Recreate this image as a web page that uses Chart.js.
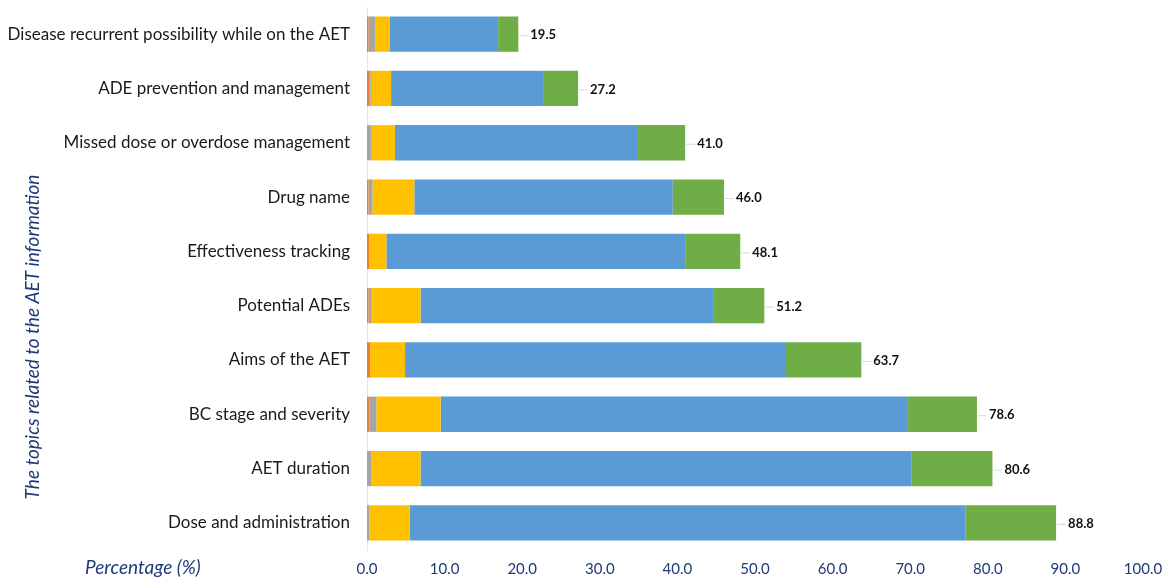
<!DOCTYPE html>
<html>
<head>
<meta charset="utf-8">
<script src="https://cdn.jsdelivr.net/npm/chart.js@4.4.1/dist/chart.umd.min.js"></script>
<style>
  html, body { margin: 0; padding: 0; background: #ffffff; }
  #wrap { width: 1164px; height: 578px; position: relative; }
</style>
</head>
<body>
<div id="wrap"><canvas id="c" width="1164" height="578"></canvas></div>
<script>
const categories = [
  "Disease recurrent possibility while on the AET",
  "ADE prevention and management",
  "Missed dose or overdose management",
  "Drug name",
  "Effectiveness tracking",
  "Potential ADEs",
  "Aims of the AET",
  "BC stage and severity",
  "AET duration",
  "Dose and administration"
];
const seriesOrange = [0.2, 0.3, 0.0, 0.2, 0.3, 0.2, 0.4, 0.3, 0.0, 0.0];
const seriesGray   = [0.9, 0.2, 0.5, 0.5, 0.0, 0.4, 0.0, 0.9, 0.6, 0.3];
const seriesYellow = [1.8, 2.6, 3.1, 5.4, 2.2, 6.3, 4.5, 8.3, 6.3, 5.2];
const seriesBlue   = [14.0, 19.7, 31.2, 33.3, 38.5, 37.7, 49.1, 60.2, 63.3, 71.6];
const seriesGreen  = [2.6, 4.4, 6.2, 6.6, 7.1, 6.6, 9.7, 8.9, 10.4, 11.7];
const totals       = [19.5, 27.2, 41.0, 46.0, 48.1, 51.2, 63.7, 78.6, 80.6, 88.8];
const xTicks       = [0, 10, 20, 30, 40, 50, 60, 70, 80, 90, 100];

const FONT = "Lato, 'Open Sans', sans-serif";
const NAVY = "#1f3a78";

const PLOT_LEFT = 367, PLOT_RIGHT = 1143, PLOT_TOP = 7, PLOT_BOTTOM = 550;

const totalsPlugin = {
  id: 'totals',
  afterDatasetsDraw(chart) {
    const ctx = chart.ctx;
    const xs = chart.scales.x, ys = chart.scales.y;
    ctx.save();
    ctx.font = "bold 13px " + FONT;
    ctx.fillStyle = "#111111";
    ctx.textBaseline = "middle";
    ctx.textAlign = "left";
    totals.forEach((t, i) => {
      const x = xs.getPixelForValue(t);
      const y = ys.getPixelForValue(i) + 1;
      ctx.strokeStyle = "#d9d9d9";
      ctx.lineWidth = 1;
      ctx.beginPath();
      ctx.moveTo(x + 1, y + 0.5);
      ctx.lineTo(x + 10, y + 0.5);
      ctx.stroke();
      ctx.fillText(t.toFixed(1), x + 12, y);
    });
    ctx.restore();
  }
};

const titlesPlugin = {
  id: 'titles',
  afterDraw(chart) {
    const ctx = chart.ctx;
    ctx.save();
    ctx.fillStyle = NAVY;
    ctx.font = "italic 19px " + FONT;
    ctx.textAlign = "left";
    ctx.textBaseline = "middle";
    ctx.fillText("Percentage (%)", 85, 568);
    ctx.translate(33, 337);
    ctx.rotate(-Math.PI / 2);
    ctx.textAlign = "center";
    ctx.fillText("The topics related to the AET information", 0, 0);
    ctx.restore();
  }
};

const mk = (label, data, color) => ({
  label, data, backgroundColor: color, borderWidth: 0,
  barPercentage: 1.0, categoryPercentage: 0.65
});

new Chart(document.getElementById('c'), {
  type: 'bar',
  data: {
    labels: categories,
    datasets: [
      mk("Orange", seriesOrange, "#ED7D31"),
      mk("Gray", seriesGray, "#A5A5A5"),
      mk("Yellow", seriesYellow, "#FFC000"),
      mk("Blue", seriesBlue, "#5B9BD5"),
      mk("Green", seriesGreen, "#70AD47")
    ]
  },
  options: {
    indexAxis: 'y',
    responsive: false,
    animation: false,
    maintainAspectRatio: false,
    layout: { padding: { left: 0, right: 1164 - PLOT_RIGHT, top: PLOT_TOP, bottom: 0 } },
    plugins: { legend: { display: false }, tooltip: { enabled: false } },
    scales: {
      x: {
        stacked: true,
        min: 0, max: 100,
        afterBuildTicks(scale) { scale.ticks = xTicks.map(v => ({ value: v })); },
        afterFit(scale) { scale.height = 578 - PLOT_BOTTOM; scale.paddingLeft = 0; scale.paddingRight = 0; },
        grid: { display: false, drawTicks: false },
        border: { display: false },
        ticks: {
          color: NAVY,
          font: { family: FONT, size: 15 },
          padding: 10,
          maxRotation: 0,
          callback: (v) => Number(v).toFixed(1)
        }
      },
      y: {
        stacked: true,
        afterFit(scale) { scale.width = PLOT_LEFT; scale.paddingTop = 0; scale.paddingBottom = 0; },
        grid: { display: false, drawTicks: false },
        border: { display: true, color: "#e6e6e6", width: 1 },
        ticks: {
          color: "#1a1a1a",
          font: { family: FONT, size: 17 },
          padding: 17
        }
      }
    }
  },
  plugins: [totalsPlugin, titlesPlugin]
});
</script>
</body>
</html>
